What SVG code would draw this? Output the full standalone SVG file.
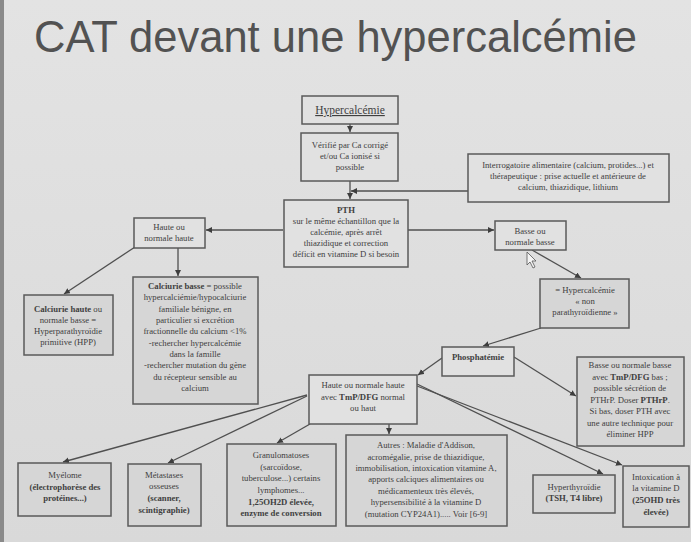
<svg xmlns="http://www.w3.org/2000/svg" width="691" height="542" viewBox="0 0 691 542">
<defs>
<linearGradient id="bg" x1="0" y1="0" x2="0" y2="1">
<stop offset="0" stop-color="#e3e3e3"/>
<stop offset="1" stop-color="#d9d9d9"/>
</linearGradient>
<marker id="ah" markerUnits="userSpaceOnUse" markerWidth="7" markerHeight="7" refX="6" refY="3" orient="auto">
<path d="M0,0 L6,3 L0,6 z" fill="#3e3e3e"/>
</marker>
<style>
.box{fill:#e1e1e1;stroke:#5a5a5a;stroke-width:1.5}
.sh{fill:#d6d6d6;stroke:#5a5a5a;stroke-width:1.5}
.t{font-family:"Liberation Serif","Times New Roman",serif;font-size:8.7px;fill:#404040;text-anchor:middle}
.b{font-weight:bold}
.c{fill:none;stroke:#505050;stroke-width:1.3;marker-end:url(#ah)}
</style>
</defs>
<rect x="0" y="0" width="691" height="542" fill="url(#bg)"/>
<rect x="0" y="0" width="4" height="542" fill="#8a8a8a"/>
<text x="34" y="52" font-family="'Liberation Sans',Arial,sans-serif" font-size="43.5" fill="#525252">CAT devant une hypercalcémie</text>

<g id="connectors">
<path class="c" d="M350,124 L350,132"/>
<path class="c" d="M350,181 L350,199"/>
<path class="c" d="M468,191 L351,191"/>
<path class="c" d="M408,230 L494,230"/>
<path class="c" d="M283,230 L206,230"/>
<path class="c" d="M135,247 L64,294"/>
<path class="c" d="M178,248 L178,276"/>
<path class="c" d="M532,250 L581,278"/>
<path class="c" d="M541,328 L483,346"/>
<path class="c" d="M514,357 L576,396"/>
<path class="c" d="M442,358 L418,375"/>
<path class="c" d="M307,395 L63,462"/>
<path class="c" d="M307,396 L168,463"/>
<path class="c" d="M310,424 L277,443"/>
<path class="c" d="M389,424 L389,434"/>
<path class="c" d="M417,384 L603,474"/>
<path class="c" d="M417,386 L622,465"/>
</g>

<g id="hypercalcemie">
<rect class="box" x="302" y="96" width="96" height="28"/>
<text class="t" x="350" y="114" text-decoration="underline" style="font-size:11.5px">Hypercalcémie</text>
</g>

<g id="verifie">
<rect class="box" x="301" y="133" width="97" height="48"/>
<text class="t" x="350" y="148">Vérifié par Ca corrigé</text>
<text class="t" x="350" y="159">et/ou Ca ionisé si</text>
<text class="t" x="350" y="170">possible</text>
</g>

<g id="interrogatoire">
<rect class="box" x="468" y="154" width="201" height="48"/>
<text class="t" x="568" y="168">Interrogatoire alimentaire (calcium, protides...) et</text>
<text class="t" x="568" y="179">thérapeutique : prise actuelle et antérieure de</text>
<text class="t" x="568" y="190">calcium, thiazidique, lithium</text>
</g>

<g id="pth">
<rect class="box" x="284" y="200" width="124" height="67"/>
<text class="t b" x="346" y="213">PTH</text>
<text class="t" x="346" y="224">sur le même échantillon que la</text>
<text class="t" x="346" y="235">calcémie, après arrêt</text>
<text class="t" x="346" y="246">thiazidique et correction</text>
<text class="t" x="346" y="257">déficit en vitamine D si besoin</text>
</g>

<g id="haute">
<rect class="box" x="134" y="218" width="71" height="30"/>
<text class="t" x="169" y="230">Haute ou</text>
<text class="t" x="169" y="241">normale haute</text>
</g>

<g id="basse">
<rect class="box" x="495" y="221" width="71" height="29"/>
<text class="t" x="530" y="234">Basse ou</text>
<text class="t" x="530" y="245">normale basse</text>
</g>

<g id="calciurie-haute">
<rect class="sh" x="24" y="295" width="89" height="60"/>
<text class="t" x="68" y="312"><tspan class="b">Calciurie haute</tspan> ou</text>
<text class="t" x="68" y="323">normale basse =</text>
<text class="t" x="68" y="334">Hyperparathyroïdie</text>
<text class="t" x="68" y="345">primitive (HPP)</text>
</g>

<g id="calciurie-basse">
<rect class="sh" x="133" y="277" width="125" height="127"/>
<text class="t" x="195" y="289"><tspan class="b">Calciurie basse</tspan> = possible</text>
<text class="t" x="195" y="300">hypercalciémie/hypocalciurie</text>
<text class="t" x="195" y="312">familiale bénigne, en</text>
<text class="t" x="195" y="323">particulier si excrétion</text>
<text class="t" x="195" y="334">fractionnelle du calcium &lt;1%</text>
<text class="t" x="195" y="346">-rechercher hypercalcémie</text>
<text class="t" x="195" y="357">dans la famille</text>
<text class="t" x="195" y="368">-rechercher mutation du gène</text>
<text class="t" x="195" y="380">du récepteur sensible au</text>
<text class="t" x="195" y="391">calcium</text>
</g>

<g id="non-parathyroidienne">
<rect class="sh" x="540" y="279" width="89" height="49"/>
<text class="t" x="585" y="293">= Hypercalcémie</text>
<text class="t" x="585" y="304">« non</text>
<text class="t" x="585" y="315">parathyroïdienne »</text>
</g>

<g id="phosphatemie">
<rect class="box" x="442" y="347" width="72" height="29"/>
<text class="t b" x="478" y="360">Phosphatémie</text>
</g>

<g id="basse-tmp">
<rect class="sh" x="577" y="357" width="107" height="89"/>
<text class="t" x="630" y="368">Basse ou normale basse</text>
<text class="t" x="630" y="380">avec <tspan class="b">TmP/DFG</tspan> bas ;</text>
<text class="t" x="630" y="391">possible sécrétion de</text>
<text class="t" x="630" y="403">PTHrP. Doser <tspan class="b">PTHrP</tspan>.</text>
<text class="t" x="630" y="414">Si bas, doser PTH avec</text>
<text class="t" x="630" y="426">une autre technique pour</text>
<text class="t" x="630" y="437">éliminer HPP</text>
</g>

<g id="haute-tmp">
<rect class="box" x="309" y="375" width="108" height="49"/>
<text class="t" x="363" y="388">Haute ou normale haute</text>
<text class="t" x="363" y="400">avec <tspan class="b">TmP/DFG</tspan>  normal</text>
<text class="t" x="363" y="411">ou haut</text>
</g>

<g id="myelome">
<rect class="sh" x="18" y="463" width="93" height="53"/>
<text class="t" x="65" y="478">Myélome</text>
<text class="t b" x="65" y="490">(électrophorèse des</text>
<text class="t b" x="65" y="501">protéines...)</text>
</g>

<g id="metastases">
<rect class="sh" x="128" y="464" width="73" height="62"/>
<text class="t" x="164" y="478">Métastases</text>
<text class="t" x="164" y="489">osseuses</text>
<text class="t b" x="164" y="501">(scanner,</text>
<text class="t b" x="164" y="513">scintigraphie)</text>
</g>

<g id="granulomatoses">
<rect class="sh" x="227" y="444" width="109" height="82"/>
<text class="t" x="281" y="458">Granulomatoses</text>
<text class="t" x="281" y="470">(sarcoïdose,</text>
<text class="t" x="281" y="481">tuberculose...) certains</text>
<text class="t" x="281" y="493">lymphomes...</text>
<text class="t b" x="281" y="505">1,25OH2D élevée,</text>
<text class="t b" x="281" y="516">enzyme de conversion</text>
</g>

<g id="autres">
<rect class="sh" x="346" y="435" width="161" height="91"/>
<text class="t" x="426" y="448">Autres : Maladie d'Addison,</text>
<text class="t" x="426" y="460">acromégalie, prise de thiazidique,</text>
<text class="t" x="426" y="471">immobilisation, intoxication vitamine A,</text>
<text class="t" x="426" y="482">apports calciques alimentaires ou</text>
<text class="t" x="426" y="494">médicamenteux très élevés,</text>
<text class="t" x="426" y="505">hypersensibilité à la vitamine D</text>
<text class="t" x="426" y="517">(mutation CYP24A1)..... Voir [6-9]</text>
</g>

<g id="hyperthyroidie">
<rect class="sh" x="533" y="475" width="82" height="38"/>
<text class="t" x="574" y="490">Hyperthyroïdie</text>
<text class="t b" x="574" y="501">(TSH, T4 libre)</text>
</g>

<g id="intoxication-vitd">
<rect class="sh" x="623" y="466" width="66" height="61"/>
<text class="t" x="656" y="480">Intoxication à</text>
<text class="t" x="656" y="491">la vitamine D</text>
<text class="t b" x="656" y="503">(25OHD très</text>
<text class="t b" x="656" y="515">élevée)</text>
</g>

<path d="M527,252 L527,265 L530,262 L533,268 L535,267 L532,261 L536,261 z" fill="#f4f4f4" stroke="#555" stroke-width="0.8"/>
</svg>
